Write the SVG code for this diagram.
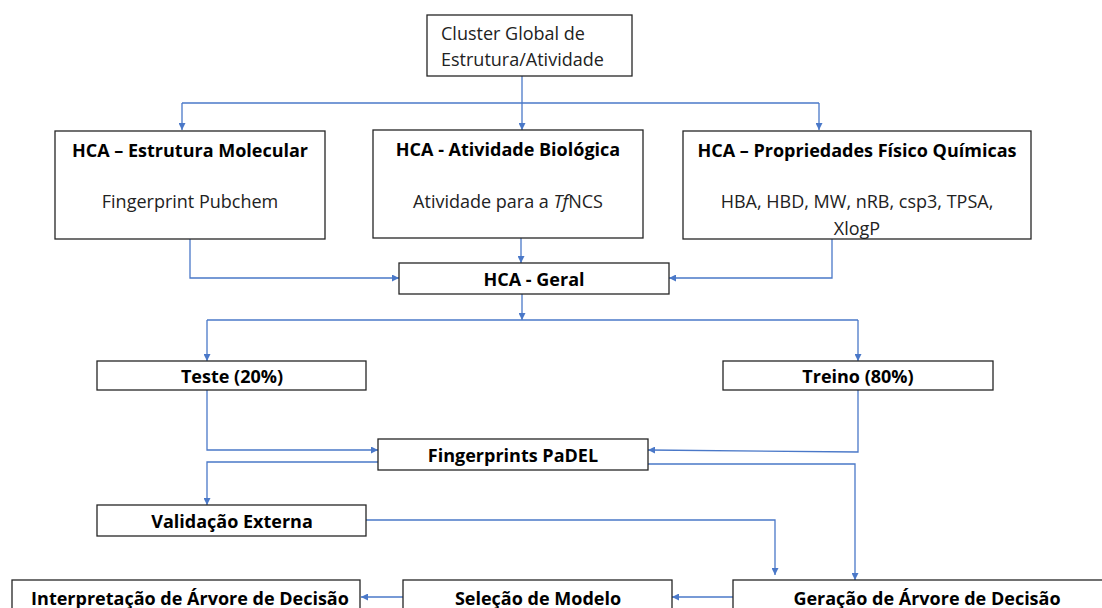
<svg xmlns="http://www.w3.org/2000/svg" width="1102" height="608" viewBox="0 0 1102 608">
<style>
.box{fill:#fff;stroke:#262626;stroke-width:1.3}
.t{font-family:"Open Sans","Liberation Sans",sans-serif;font-size:18px;fill:#222;text-anchor:middle}
.b{font-weight:bold;fill:#000}
.c{fill:none;stroke:#4a78c8;stroke-width:1.3}
</style>
<defs>
<marker id="a" viewBox="0 0 10 10" refX="10" refY="5" markerWidth="7" markerHeight="7" markerUnits="userSpaceOnUse" orient="auto"><path d="M0,0L10,5L0,10z" fill="#4a78c8"/></marker>
</defs>
<g id="connectors">
<path class="c" d="M522,76V103"/>
<path class="c" d="M182,103H819"/>
<path class="c" d="M182,103V130" marker-end="url(#a)"/>
<path class="c" d="M522,103V130" marker-end="url(#a)"/>
<path class="c" d="M819,103V130" marker-end="url(#a)"/>
<path class="c" d="M190,239V278H399" marker-end="url(#a)"/>
<path class="c" d="M832,239V278H669" marker-end="url(#a)"/>
<path class="c" d="M521,238V263" marker-end="url(#a)"/>
<path class="c" d="M522,294V320" marker-end="url(#a)"/>
<path class="c" d="M207,320H858"/>
<path class="c" d="M207,320V361" marker-end="url(#a)"/>
<path class="c" d="M858,320V361" marker-end="url(#a)"/>
<path class="c" d="M207,389V450H378" marker-end="url(#a)"/>
<path class="c" d="M858,389V452L648,450" marker-end="url(#a)"/>
<path class="c" d="M378,462H207V505" marker-end="url(#a)"/>
<path class="c" d="M648,464H855V580" marker-end="url(#a)"/>
<path class="c" d="M366,520H775V575" marker-end="url(#a)"/>
<path class="c" d="M733,597H672" marker-end="url(#a)"/>
<path class="c" d="M403,597H361" marker-end="url(#a)"/>
</g>
<g id="n-cluster"><rect class="box" x="427" y="15" width="205" height="61"/>
<text class="t" style="text-anchor:start" x="441" y="40">Cluster Global de</text>
<text class="t" style="text-anchor:start" x="441" y="66">Estrutura/Atividade</text></g>
<g id="n-estrutura"><rect class="box" x="55" y="131" width="270" height="108"/>
<text class="t b" x="190" y="157">HCA – Estrutura Molecular</text>
<text class="t" x="190" y="208">Fingerprint Pubchem</text></g>
<g id="n-atividade"><rect class="box" x="373" y="130" width="270" height="108"/>
<text class="t b" x="508" y="156">HCA - Atividade Biológica</text>
<text class="t" x="508" y="208">Atividade para a <tspan font-style="italic">Tf</tspan>NCS</text></g>
<g id="n-propriedades"><rect class="box" x="683" y="131" width="348" height="108"/>
<text class="t b" x="857" y="157">HCA – Propriedades Físico Químicas</text>
<text class="t" x="857" y="208">HBA, HBD, MW, nRB, csp3, TPSA,</text>
<text class="t" x="857" y="235">XlogP</text></g>
<g id="n-geral"><rect class="box" x="399" y="263" width="270" height="31"/>
<text class="t b" x="534" y="286">HCA - Geral</text></g>
<g id="n-teste"><rect class="box" x="97" y="361" width="269" height="29"/>
<text class="t b" x="232" y="383">Teste (20%)</text></g>
<g id="n-treino"><rect class="box" x="723" y="361" width="270" height="29"/>
<text class="t b" x="858" y="383">Treino (80%)</text></g>
<g id="n-padel"><rect class="box" x="378" y="439" width="270" height="31"/>
<text class="t b" x="513" y="462">Fingerprints PaDEL</text></g>
<g id="n-validacao"><rect class="box" x="97" y="505" width="269" height="31"/>
<text class="t b" x="232" y="528">Validação Externa</text></g>
<g id="n-interpretacao"><rect class="box" x="12" y="580" width="348" height="40"/>
<text class="t b" x="190" y="605">Interpretação de Árvore de Decisão</text></g>
<g id="n-selecao"><rect class="box" x="403" y="580" width="269" height="40"/>
<text class="t b" x="538" y="605">Seleção de Modelo</text></g>
<g id="n-geracao"><rect class="box" x="733" y="580" width="400" height="40"/>
<text class="t b" x="927" y="605">Geração de Árvore de Decisão</text></g>
</svg>
